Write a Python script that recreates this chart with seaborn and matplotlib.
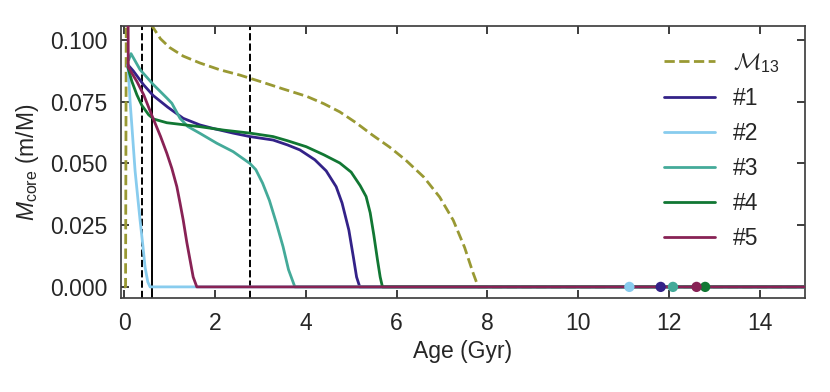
import matplotlib
matplotlib.use("Agg")
import matplotlib.pyplot as plt
import seaborn as sns

# core mass vs age
m13_age = [0.0, 0.03, 0.05, 0.1, 0.3, 0.5, 0.64, 0.8, 1.0, 1.3, 1.67, 2.1, 2.55, 3.0, 3.5, 4.02,
           4.4, 4.75, 5.1, 5.47, 5.85, 6.2, 6.6, 6.95, 7.25, 7.5, 7.68, 7.8, 15.0]
m13_core = [0.0, 0.0, 0.14, 0.13, 0.115, 0.108, 0.105, 0.1005, 0.097, 0.0935, 0.0907, 0.0880,
            0.0858, 0.0832, 0.0802, 0.0772, 0.0742, 0.0709, 0.0666, 0.0615, 0.0566, 0.0514,
            0.0445, 0.0364, 0.027, 0.016, 0.006, 0.0, 0.0]

s1_age = [0.08, 0.2, 0.43, 0.64, 0.96, 1.3, 1.67, 2.0, 2.4, 2.77, 3.28, 3.6, 3.87, 4.2, 4.45,
          4.67, 4.8, 4.95, 5.05, 5.12, 5.19, 15.0]
s1_core = [0.090, 0.0875, 0.0818, 0.0775, 0.0728, 0.0683, 0.0656, 0.0640, 0.0623, 0.0609, 0.0595,
           0.0575, 0.0555, 0.0515, 0.0470, 0.0406, 0.034, 0.023, 0.012, 0.004, 0.0, 0.0]

s2_age = [0.08, 0.1, 0.13, 0.17, 0.24, 0.3, 0.35, 0.41, 0.46, 0.52, 0.57, 15.0]
s2_core = [0.090, 0.085, 0.075, 0.065, 0.047, 0.036, 0.027, 0.017, 0.008, 0.002, 0.0, 0.0]

s3_age = [0.1, 0.15, 0.35, 0.64, 0.94, 1.05, 1.15, 1.23, 1.4, 1.67, 2.04, 2.4, 2.77, 2.9, 3.05,
          3.2, 3.35, 3.5, 3.62, 3.76, 15.0]
s3_core = [0.092, 0.0945, 0.088, 0.082, 0.0765, 0.0744, 0.071, 0.0683, 0.065, 0.0622, 0.0582,
           0.0548, 0.050, 0.0475, 0.042, 0.035, 0.026, 0.0163, 0.007, 0.0, 0.0]

s4_age = [0.08, 0.17, 0.28, 0.39, 0.54, 0.65, 0.94, 1.67, 2.2, 2.77, 3.28, 3.6, 4.01, 4.4, 4.75,
          5.0, 5.2, 5.33, 5.42, 5.5, 5.58, 5.64, 5.69, 15.0]
s4_core = [0.089, 0.0832, 0.0778, 0.0735, 0.0697, 0.068, 0.0665, 0.0649, 0.0635, 0.0623, 0.0609,
           0.0592, 0.0568, 0.0535, 0.0502, 0.0465, 0.041, 0.0366, 0.030, 0.021, 0.011, 0.004,
           0.0, 0.0]

s5_age = [0.08, 0.09, 0.28, 0.43, 0.62, 0.8, 0.94, 1.05, 1.16, 1.23, 1.30, 1.38, 1.45, 1.52,
          1.6, 15.0]
s5_core = [0.14, 0.089, 0.0832, 0.0778, 0.0690, 0.061, 0.0541, 0.048, 0.0406, 0.034, 0.0271,
           0.018, 0.011, 0.004, 0.0, 0.0]

labels = [r"$\mathcal{M}_{13}$", "#1", "#2", "#3", "#4", "#5"]
colors = ["#999933", "#332288", "#88CCEE", "#44AA99", "#117733", "#882255"]

# present-day ages of the stars (dots on the zero line)
star_age = [11.82, 11.13, 12.09, 12.80, 12.61]

# vertical reference ages
vline_dashed = [0.39, 2.77]
vline_solid = [0.62]

sns.set_theme(style="ticks")
plt.rcParams["font.family"] = ["Liberation Sans", "DejaVu Sans"]
plt.rcParams["mathtext.fontset"] = "custom"
plt.rcParams["mathtext.rm"] = "Liberation Sans"
plt.rcParams["mathtext.it"] = "Liberation Sans:italic"
plt.rcParams["mathtext.cal"] = "cmsy10"

fig = plt.figure(figsize=(8.3, 3.92), dpi=100)
ax = fig.add_axes([0.1458, 0.2398, 0.8241, 0.6939])

for x in vline_dashed:
    ax.axvline(x, color="black", ls="--", lw=1.4, zorder=1)
for x in vline_solid:
    ax.axvline(x, color="black", ls="-", lw=1.4, zorder=1)

series = [(m13_age, m13_core), (s1_age, s1_core), (s2_age, s2_core),
          (s3_age, s3_core), (s4_age, s4_core), (s5_age, s5_core)]
for i, (age, core) in enumerate(series):
    sns.lineplot(x=age, y=core, ax=ax, sort=False, estimator=None, color=colors[i],
                 lw=2.0, ls="--" if i == 0 else "-", label=labels[i], zorder=2 + i)

sns.scatterplot(x=star_age, y=[0.0] * len(star_age), ax=ax, hue=labels[1:],
                palette=colors[1:], s=55, edgecolor="none", legend=False, zorder=10)

ax.set_xlim(-0.07, 15.0)
ax.set_ylim(-0.0045, 0.1057)
ax.set_xticks([0, 2, 4, 6, 8, 10, 12, 14])
ax.set_yticks([0.0, 0.025, 0.05, 0.075, 0.1])
ax.set_yticklabels(["0.000", "0.025", "0.050", "0.075", "0.100"])
ax.tick_params(direction="in", top=True, right=True, length=6, width=1.25,
               labelsize=16.5, pad=10, color=".15")
for sp in ax.spines.values():
    sp.set_linewidth(1.25)
    sp.set_color(".25")

ax.set_xlabel("Age (Gyr)", fontsize=16.5, labelpad=4)
ax.set_ylabel(r"$M_{\rm core}$ (m/M)", fontsize=16.5, labelpad=6)

ax.legend(loc="upper right", frameon=False, fontsize=16.5, handlelength=2.2,
          labelspacing=0.52, borderaxespad=0.7, handletextpad=0.8)

fig.savefig("out.png", dpi=100)
